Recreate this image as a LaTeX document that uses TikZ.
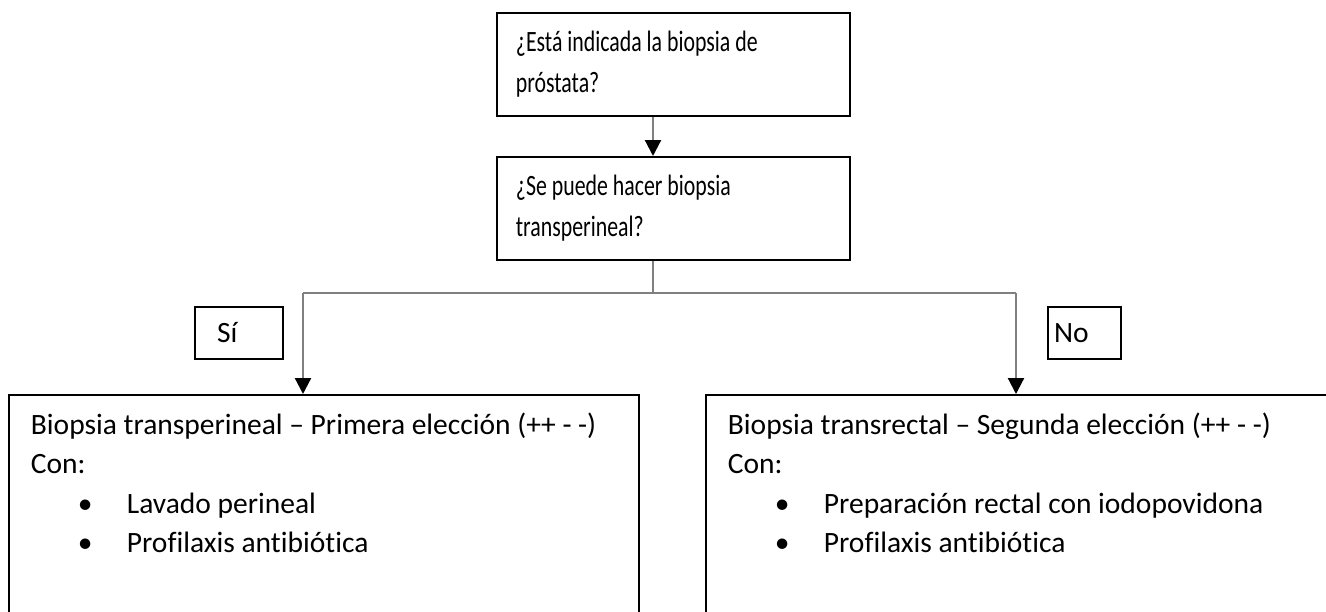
\documentclass[tikz,border=0pt]{standalone}
\usepackage{fontspec}
\setmainfont{Carlito}[Ligatures={NoCommon}]
\usetikzlibrary{arrows.meta}
\newcommand{\narrowline}[1]{\scalebox{0.74}[1]{#1}}

\begin{document}
\begin{tikzpicture}[x=1pt, y=-1pt,
    every node/.style={execute at begin node={\spaceskip0pt\xspaceskip0pt}},
    qbox/.style={draw, line width=1.8pt, anchor=north west, align=left, minimum width=353pt, minimum height=103pt, text width=315pt, inner xsep=19pt, font=\fontsize{29.5}{41}\selectfont},
    ansbox/.style={draw, line width=1.8pt, anchor=north west, align=left, inner xsep=22pt, inner ysep=18pt, text depth=160pt, font=\fontsize{29.5}{39.5}\selectfont},
    tag/.style={draw, line width=1.8pt, minimum height=52pt, align=left, font=\fontsize{29.5}{36}\selectfont},
    link/.style={draw=gray, line width=2.2pt},
    flow/.style={link, -{Triangle[length=16pt,width=16pt,color=black]}}]
  \path[use as bounding box, clip] (0,0) rectangle (1326,611);
  % question boxes
  \node[qbox] (first) at (496,12) {\narrowline{¿Está indicada la biopsia de}\\\narrowline{próstata?}};
  \node[qbox] (second) at (496,156) {\narrowline{¿Se puede hacer biopsia}\\\narrowline{transperineal?}};
  % answer boxes
  \node[ansbox, text width=586pt] (transper) at (8,394) {Biopsia transperineal – Primera elección (++ - -)\\Con:\\
    \hspace*{47pt}\makebox[49pt][l]{\textbullet}Lavado perineal\\
    \hspace*{47pt}\makebox[49pt][l]{\textbullet}Profilaxis antibiótica};
  \node[ansbox, text width=700pt] (transrect) at (705,394) {Biopsia transrectal – Segunda elección (++ - -)\\Con:\\
    \hspace*{47pt}\makebox[49pt][l]{\textbullet}Preparación rectal con iodopovidona\\
    \hspace*{47pt}\makebox[49pt][l]{\textbullet}Profilaxis antibiótica};
  % branch labels
  \node[tag, text width=44pt, inner xsep=22pt] (si) at (239,333) {Sí};
  \node[tag, text width=61pt, inner xsep=6pt] (no) at (1084.5,333) {No};
  % connectors
  \coordinate (fork) at (653,293);
  \coordinate (forkL) at (303,293);
  \coordinate (forkR) at (1016,293);
  \draw[flow] (first.south -| fork) -- (second.north -| fork);
  \draw[link] (second.south -| fork) -- (fork);
  \draw[link] (forkL) -- (forkR);
  \draw[flow] (forkL) -- (forkL |- transper.north);
  \draw[flow] (forkR) -- (forkR |- transrect.north);
\end{tikzpicture}
\end{document}
